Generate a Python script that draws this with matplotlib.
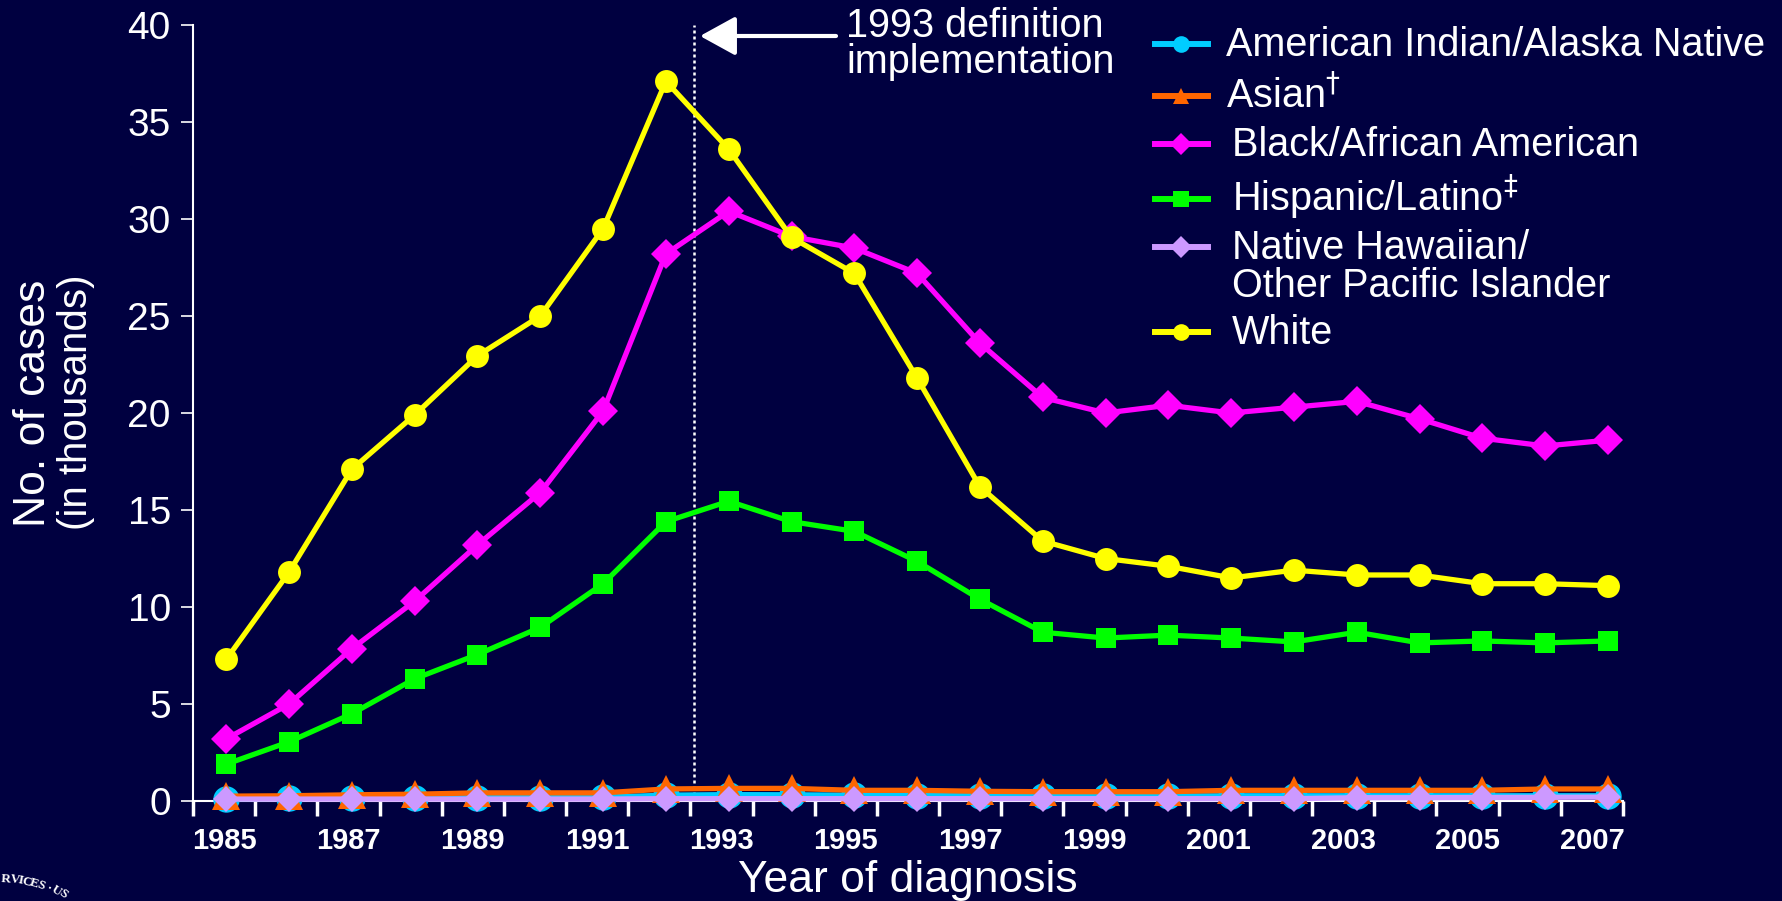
import matplotlib
matplotlib.use("Agg")
import matplotlib.pyplot as plt
import numpy as np
from matplotlib.lines import Line2D

# values in thousands of cases, 1985-2007
years = list(range(1985, 2008))
aian = [0.12, 0.13, 0.15, 0.16, 0.17, 0.18, 0.20, 0.30, 0.33, 0.32, 0.30, 0.28,
        0.27, 0.26, 0.26, 0.26, 0.27, 0.27, 0.27, 0.27, 0.27, 0.27, 0.27]
asian = [0.25, 0.27, 0.32, 0.35, 0.42, 0.42, 0.42, 0.62, 0.65, 0.65, 0.55, 0.55,
         0.50, 0.48, 0.48, 0.48, 0.55, 0.55, 0.55, 0.55, 0.55, 0.62, 0.62]
black = [3.2, 5.0, 7.85, 10.3, 13.2, 15.9, 20.1, 28.2, 30.4, 29.1, 28.5, 27.2,
         23.6, 20.8, 20.0, 20.4, 20.0, 20.3, 20.6, 19.7, 18.7, 18.3, 18.6]
hispanic = [1.9, 3.05, 4.5, 6.3, 7.55, 8.95, 11.2, 14.4, 15.45, 14.4, 13.9, 12.35,
            10.4, 8.7, 8.4, 8.55, 8.4, 8.2, 8.7, 8.15, 8.25, 8.15, 8.25]
nhopi = [0.10, 0.10, 0.10, 0.10, 0.10, 0.10, 0.10, 0.12, 0.12, 0.12, 0.12, 0.12,
         0.12, 0.12, 0.12, 0.12, 0.12, 0.12, 0.17, 0.17, 0.18, 0.19, 0.20]
white = [7.3, 11.8, 17.1, 19.9, 22.95, 25.0, 29.5, 37.1, 33.6, 29.05, 27.2, 21.8,
         16.2, 13.4, 12.5, 12.1, 11.5, 11.9, 11.65, 11.65, 11.2, 11.2, 11.1]

labels = ["American Indian/Alaska Native", r"Asian$^{\dagger}$",
          "Black/African American", r"Hispanic/Latino$^{\ddagger}$",
          "Native Hawaiian/\nOther Pacific Islander", "White"]
series = [aian, asian, black, hispanic, nhopi, white]
colors = ["#00CCFF", "#FF6600", "#FF00FF", "#00FF00", "#CC99FF", "#FFFF00"]
markers = ["o", "^", "D", "s", "D", "o"]
sizes = [19, 20, 15, 15, 13.5, 16.5]
legend_sizes = [12, 12, 11, 12, 11, 12]

bg = "#000040"
W, H = 1782, 901
plt.rcParams["font.family"] = ["Liberation Sans", "DejaVu Sans"]

fig = plt.figure(figsize=(W / 100, H / 100), dpi=100, facecolor=bg)
ax = fig.add_axes([193 / W, 1 - 801 / H, (1623 - 193) / W, (801 - 25) / H])
ax.set_facecolor(bg)

x0, x1 = 1984.47, 2007.24
ax.set_xlim(x0, x1)
ax.set_ylim(0, 40)

for vals, c, m, ms in zip(series, colors, markers, sizes):
    ax.plot(years, vals, color=c, lw=3.8, marker=m, ms=ms, mew=0,
            clip_on=False, zorder=3)

# dotted line marking the 1993 definition
ax.axvline(1992.45, color="white", lw=1.8, linestyle=(0, (1.2, 1.2)), zorder=2)

for s in ["top", "right"]:
    ax.spines[s].set_visible(False)
for s in ["left", "bottom"]:
    ax.spines[s].set_color("white")
    ax.spines[s].set_linewidth(1.5)

ax.set_yticks(range(0, 41, 5))
ax.tick_params(axis="y", colors="white", labelsize=28, length=9, width=1.2, pad=7)

edges = np.linspace(x0, x1, len(years) + 1)
centers = (edges[:-1] + edges[1:]) / 2
ax.set_xticks(edges, minor=True)
ax.set_xticks(centers[::2], labels=[str(y) for y in years[::2]])
ax.tick_params(axis="x", which="major", length=0, pad=19, colors="white",
               labelsize=21)
ax.tick_params(axis="x", which="minor", length=11, width=2.5, color="white")
for t in ax.get_xticklabels():
    t.set_fontweight("bold")

fig.text(908 / W, 1 - 892 / H, "Year of diagnosis", color="white", fontsize=32,
         ha="center", va="baseline")
fig.text(34 / W, 1 - 403 / H, "No. of cases", color="white", fontsize=32,
         rotation=90, ha="center", va="center")
fig.text(76 / W, 1 - 402 / H, "(in thousands)", color="white", fontsize=29,
         rotation=90, ha="center", va="center")

# annotation
fig.text(846 / W, 1 - 37 / H, "1993 definition", color="white", fontsize=28.5,
         ha="left", va="baseline")
fig.text(846 / W, 1 - 73 / H, "implementation", color="white", fontsize=28.5,
         ha="left", va="baseline")
ax.annotate("", xy=(700 / W, 1 - 36 / H), xytext=(836 / W, 1 - 36 / H),
            xycoords="figure fraction", textcoords="figure fraction",
            arrowprops=dict(arrowstyle="-|>,head_length=1.0,head_width=0.55",
                            mutation_scale=22, color="white", lw=3,
                            shrinkA=0, shrinkB=0))

# legend
rows = [44, 96, 144, 199, 247, 332]
text_x = [1226, 1226, 1232, 1232, 1232, 1232]
for lab, c, m, ms, ry, tx in zip(labels, colors, markers, legend_sizes, rows, text_x):
    fig.add_artist(Line2D([1155 / W, 1208 / W], [1 - ry / H, 1 - ry / H],
                          transform=fig.transFigure, color=c, lw=4.3))
    fig.add_artist(Line2D([1181 / W], [1 - ry / H], transform=fig.transFigure,
                          marker=m, ms=ms, mew=0, color=c))
    lines = lab.split("\n")
    for i, ln in enumerate(lines):
        fig.text(tx / W, 1 - (ry + 12 + 38 * i) / H, ln, color="white",
                 fontsize=28.5, ha="left", va="baseline")

# bit of the seal peeking in at the bottom left
seal = [("R", 6, 879, -4), ("V", 15, 880, -8), ("I", 21, 881, -11),
        ("C", 27, 882, -14), ("E", 34, 884, -18), ("S", 41, 886, -22),
        ("\u00b7", 49, 889, -27), ("U", 56, 891, -32), ("S", 63, 894, -38)]
for ch, sx, sy, rot in seal:
    fig.text(sx / W, 1 - sy / H, ch, color="white", fontsize=9.5,
             family="Liberation Serif", fontweight="bold", rotation=rot,
             ha="center", va="center")

fig.savefig("out.png", dpi=100, facecolor=bg)
